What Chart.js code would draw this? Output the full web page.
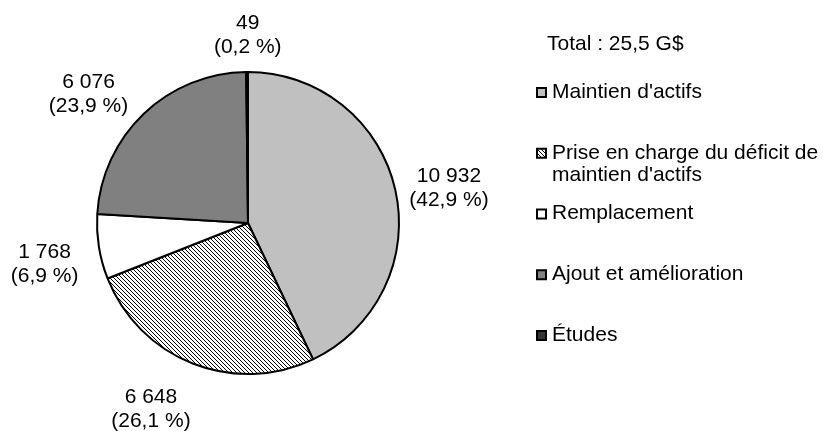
<!DOCTYPE html>
<html>
<head>
<meta charset="utf-8">
<script src="https://cdn.jsdelivr.net/npm/chart.js@4"></script>
<style>
  body { margin: 0; background: #fff; }
  #wrap { width: 823px; height: 431px; position: relative; }
</style>
</head>
<body>
<div id="wrap"><canvas id="pie" width="823" height="431"></canvas></div>
<script>
const categories = ["Maintien d'actifs", "Prise en charge du déficit de maintien d'actifs", "Remplacement", "Ajout et amélioration", "Études"];
const legendLines = [["Maintien d'actifs"], ["Prise en charge du déficit de", "maintien d'actifs"], ["Remplacement"], ["Ajout et amélioration"], ["Études"]];
const amounts = [10932, 6648, 1768, 6076, 49];
const valueLabels = ["10 932", "6 648", "1 768", "6 076", "49"];
const percentLabels = ["(42,9 %)", "(26,1 %)", "(6,9 %)", "(23,9 %)", "(0,2 %)"];
const totalLabel = "Total : 25,5 G$";

const FONT = "21px 'Liberation Sans', Arial, sans-serif";

// hatch for the second slice
function makeHatch() {
    const c = document.createElement("canvas");
    c.width = 4;
    c.height = 4;
    const g = c.getContext("2d");
    g.fillStyle = "#fff";
    g.fillRect(0, 0, 4, 4);
    g.fillStyle = "#000";
    for (let i = 0; i < 4; i++) {
        g.fillRect(i, i, 1, 1);
    }
    return g.createPattern(c, "repeat");
}
const hatch = makeHatch();
const fills = ["#c0c0c0", hatch, "#ffffff", "#808080", "#333333"];

const sliceLabels = {
    id: "sliceLabels",
    afterDatasetsDraw(chart, args, opts) {
        const ctx = chart.ctx;
        const arcs = chart.getDatasetMeta(0).data;
        ctx.save();
        ctx.font = FONT;
        ctx.fillStyle = "#000";
        ctx.textAlign = "center";
        ctx.textBaseline = "middle";
        arcs.forEach((arc, i) => {
            const p = arc.getProps(["x", "y", "startAngle", "endAngle", "outerRadius"], true);
            const mid = (p.startAngle + p.endAngle) / 2;
            const d = p.outerRadius + opts.gap;
            const nudge = opts.nudge[i] || [0, 0];
            const x = p.x + Math.cos(mid) * d + nudge[0];
            const y = p.y + Math.sin(mid) * d + nudge[1];
            ctx.fillText(valueLabels[i], x, y - opts.lineHeight / 2);
            ctx.fillText(percentLabels[i], x, y + opts.lineHeight / 2);
        });
        ctx.restore();
    }
};

const sideLegend = {
    id: "sideLegend",
    afterDraw(chart, args, opts) {
        const ctx = chart.ctx;
        ctx.save();
        ctx.font = FONT;
        ctx.fillStyle = "#000";
        ctx.textAlign = "left";
        ctx.textBaseline = "middle";
        ctx.fillText(totalLabel, opts.x + 11, opts.top);
        legendLines.forEach((lines, i) => {
            const y = opts.first + i * opts.step;
            ctx.fillStyle = fills[i];
            ctx.fillRect(opts.x + 1, y - 4, 9, 9);
            ctx.strokeStyle = "#000";
            ctx.lineWidth = 2;
            ctx.strokeRect(opts.x + 1, y - 4, 9, 9);
            ctx.fillStyle = "#000";
            lines.forEach((t, j) => ctx.fillText(t, opts.x + 16, y + j * opts.lineHeight));
        });
        ctx.restore();
    }
};

new Chart(document.getElementById("pie"), {
    type: "pie",
    data: {
        labels: categories,
        datasets: [{
            data: amounts,
            backgroundColor: fills,
            borderColor: "#000",
            borderWidth: 2
        }]
    },
    options: {
        responsive: false,
        animation: false,
        rotation: 0,
        layout: { padding: { left: 96, right: 423, top: 71, bottom: 56 } },
        plugins: {
            legend: { display: false },
            tooltip: { enabled: false },
            sliceLabels: {
                gap: 54,
                lineHeight: 24,
                nudge: { 0: [1, 10], 1: [-22, -5], 2: [-1, 9], 3: [-18, 20], 4: [1, 17] }
            },
            sideLegend: { x: 536, top: 44, first: 92, step: 60.75, lineHeight: 22 }
        }
    },
    plugins: [sliceLabels, sideLegend]
});
</script>
</body>
</html>
